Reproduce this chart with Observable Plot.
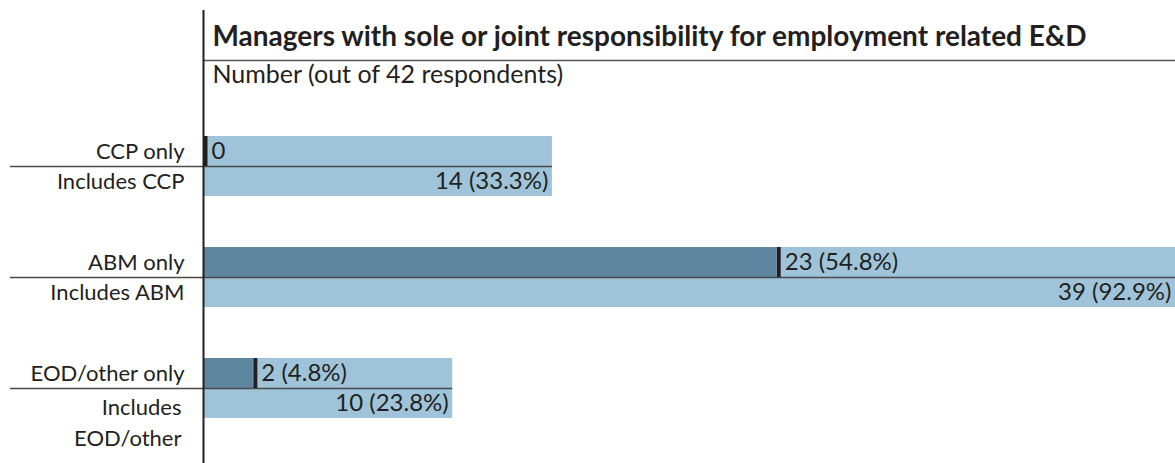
<!DOCTYPE html>
<html>
<head>
<meta charset="utf-8">
<script src="https://cdn.jsdelivr.net/npm/d3@7"></script>
<script src="https://cdn.jsdelivr.net/npm/@observablehq/plot@0.6"></script>
<style>
  html, body { margin: 0; padding: 0; background: #fff; }
  svg { display: block; }
</style>
</head>
<body>
<div id="chart"></div>
<script>
// ---- data ----
const groups = ["CCP", "ABM", "EOD/other"];
const onlyLabels = ["CCP only", "ABM only", "EOD/other only"];
const includesLabels = ["Includes CCP", "Includes ABM", "Includes\nEOD/other"];
const onlyValues = [0, 23, 2];
const includesValues = [14, 39, 10];
const respondents = 42;
const title = "Managers with sole or joint responsibility for employment related E&D";
const subtitle = "Number (out of 42 respondents)";

const fmt = v => v === 0 ? "0" : `${v} (${(v / respondents * 100).toFixed(1)}%)`;
const rows = groups.map((g, i) => ({
  group: g,
  onlyLabel: onlyLabels[i],
  includesLabel: includesLabels[i],
  only: onlyValues[i],
  includes: includesValues[i],
  onlyText: fmt(onlyValues[i]),
  includesText: fmt(includesValues[i])
}));
const wrapped = d => d.includesLabel.includes("\n");

const light = "#9fc4d9";
const dark = "#5e869f";
const ink = "#231f20";
const font = "Lato, 'Open Sans', sans-serif";

const chart = Plot.plot({
  width: 1175,
  height: 463,
  marginLeft: 203,
  marginRight: 0,
  marginTop: 60,
  marginBottom: 0,
  style: {fontFamily: font, color: ink, background: "#fff"},
  x: {domain: [0, 39], axis: null},
  y: {domain: groups, range: [135, 418], paddingInner: 0.46, paddingOuter: 0, axis: null},
  marks: [
    Plot.barX(rows, {x: "includes", y: "group", fill: light}),
    Plot.barX(rows, {x: "only", y: "group", fill: dark, insetBottom: 30}),
    Plot.ruleY(rows, {y: "group", x1: 0, x2: "includes", insetLeft: -193, stroke: "#4a4a4a", strokeWidth: 1.5}),
    Plot.tickX(rows, {x: "only", y: "group", insetBottom: 30, dx: 2, stroke: ink, strokeWidth: 4}),
    Plot.text(rows, {x: "only", y: "group", text: "onlyText", dy: -15, dx: 8, textAnchor: "start", fontSize: 24, fill: ink}),
    Plot.text(rows, {x: "includes", y: "group", text: "includesText", dy: 15, dx: -4, textAnchor: "end", fontSize: 24, fill: ink}),
    Plot.text(rows, {y: "group", text: "onlyLabel", frameAnchor: "left", dx: -19, dy: -15, textAnchor: "end", fontSize: 22, fill: ink}),
    Plot.text(rows, {filter: d => !wrapped(d), y: "group", text: "includesLabel", frameAnchor: "left", dx: -19, dy: 15, textAnchor: "end", fontSize: 22, fill: ink}),
    Plot.text(rows, {filter: wrapped, y: "group", text: "includesLabel", frameAnchor: "left", dx: -22, dy: 4, lineAnchor: "top", lineHeight: 1.41, textAnchor: "end", fontSize: 22, fill: ink}),
    Plot.frame({anchor: "top", stroke: "#555", strokeWidth: 1.5}),
    Plot.ruleX([0], {stroke: ink, strokeWidth: 2, insetTop: -50}),
    Plot.text([title], {frameAnchor: "top-left", dx: 9, dy: -34, lineAnchor: "top", fontSize: 28, fontWeight: "bold", textAnchor: "start", fill: ink}),
    Plot.text([subtitle], {frameAnchor: "top-left", dx: 9, dy: 5, lineAnchor: "top", fontSize: 25, textAnchor: "start", fill: ink})
  ]
});
document.getElementById("chart").appendChild(chart);
</script>
</body>
</html>
